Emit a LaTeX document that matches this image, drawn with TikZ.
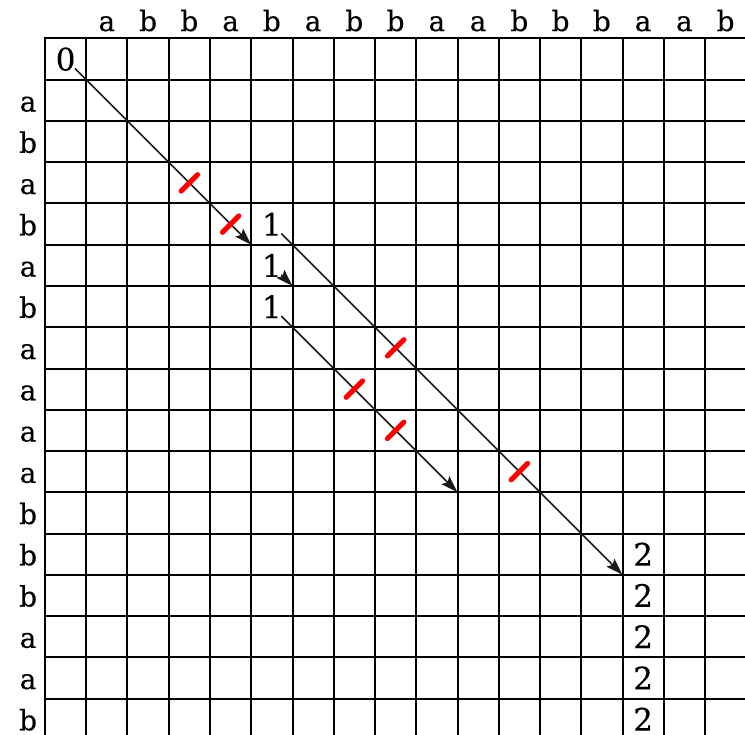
\documentclass[tikz,border=0pt]{standalone}
\usepackage{fontspec}
\setmainfont{DejaVu Serif}
\newfontfamily\gridfont{DejaVu Serif}[FakeBold=0.4]
\usetikzlibrary{arrows.meta}
\begin{document}
\begin{tikzpicture}[x=41.25pt,y=-41.25pt,
  gridline/.style={line width=2pt,black,line cap=rect},
  lbl/.style={font=\gridfont\fontsize{28}{28}\selectfont, inner sep=0pt, anchor=base},
  num/.style={font=\gridfont\fontsize{31}{31}\selectfont, inner sep=0pt},
  arr/.style={line width=1.6pt, black!90, -{Stealth[length=17pt,width=11pt,inset=3pt]}},
  cut/.style={red, line width=5pt, line cap=round}]
\useasboundingbox (-1.0909,-0.9333) rectangle (16.9697,16.8848);
\begin{scope}
\clip (-1.0909,-0.9333) rectangle (16.9697,16.8848);
\foreach \i in {0,...,17} {
  \draw[gridline] (\i,0) -- (\i,17);
  \draw[gridline] (0,\i) -- (17,\i);
}
\end{scope}
% column and row labels
\foreach \t [count=\k] in {a,b,b,a,b,a,b,b,a,a,b,b,b,a,a,b}
  \node[lbl] (top\k) at (\k+0.5,-0.18) {\t};
\foreach \t [count=\k] in {a,b,a,b,a,b,a,a,a,a,b,b,b,a,a,b}
  \node[lbl] (left\k) at (-0.41,\k+0.77) {\t};
% numbers
\node[num] (n0) at (0.5,0.5) {0};
\node[num] (n1a) at (5.5,4.5) {1};
\node[num] (n1b) at (5.5,5.5) {1};
\node[num] (n1c) at (5.5,6.5) {1};
\foreach \r in {12,...,16}
  \node[num] (n2-\r) at (14.5,\r+0.5) {2};
% arrow ends
\coordinate (s1) at (0.73,0.73);  \coordinate (e1) at (5,5);
\coordinate (s2) at (5.73,4.73);  \coordinate (e2) at (14,13);
\coordinate (s3) at (5.73,5.73);  \coordinate (e3) at (6,6);
\coordinate (s4) at (5.73,6.73);  \coordinate (e4) at (10,11);
\draw[arr] (s1) -- (e1);
\draw[arr] (s2) -- (e2);
\draw[arr] (s3) -- (e3);
\draw[arr] (s4) -- (e4);
% red cuts
\foreach \x/\y in {3.5/3.5,4.5/4.5,8.5/7.5,11.5/10.5,7.5/8.5,8.5/9.5}
  \draw[cut] (\x-0.2,\y+0.2) -- (\x+0.2,\y-0.2);
\end{tikzpicture}
\end{document}
